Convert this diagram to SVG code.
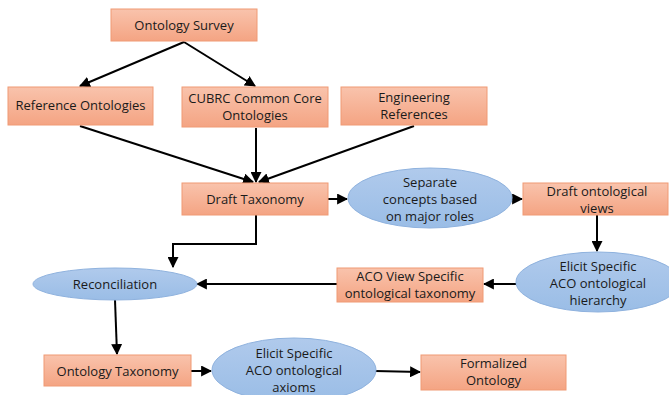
<svg xmlns="http://www.w3.org/2000/svg" width="669" height="395" viewBox="0 0 669 395">
  <defs>
    <linearGradient id="boxFill" x1="0" y1="0" x2="0" y2="1">
      <stop offset="0" stop-color="#F9C3AC"/>
      <stop offset="1" stop-color="#F4A483"/>
    </linearGradient>
    <linearGradient id="ovalFill" x1="0" y1="0" x2="0" y2="1">
      <stop offset="0" stop-color="#B0CAEC"/>
      <stop offset="1" stop-color="#9ABDE6"/>
    </linearGradient>
    <marker id="arrow" viewBox="0 0 10 10" refX="9" refY="5" markerWidth="5.5" markerHeight="5.5" orient="auto" markerUnits="strokeWidth">
      <path d="M0,0 L10,5 L0,10 z" fill="#000"/>
    </marker>
  </defs>
  <style>
    .box { fill: url(#boxFill); stroke: #F09A74; stroke-width: 1; }
    .oval { fill: url(#ovalFill); stroke: #8FB2DE; stroke-width: 1; }
    .lbl { font-family: "Open Sans", "Liberation Sans", sans-serif; font-size: 13px; fill: #1a1a1a; text-anchor: middle; }
    .conn { fill: none; stroke: #000; stroke-width: 2; marker-end: url(#arrow); }
  </style>
  <rect width="669" height="395" fill="#fff"/>

  <g id="connectors">
    <path class="conn" d="M184,42 L80,86"/>
    <path class="conn" d="M184,42 L255,86"/>
    <path class="conn" d="M80,126 L253,182"/>
    <path class="conn" d="M256,128 L256,182"/>
    <path class="conn" d="M414,126 L259,182"/>
    <path class="conn" d="M328,199 L347,199"/>
    <path class="conn" d="M512,199 L522,199"/>
    <path class="conn" d="M597,215 L597,251"/>
    <path class="conn" d="M516,284 L484,284"/>
    <path class="conn" d="M337,284 L197,284"/>
    <path class="conn" d="M256,215 L256,244 L173,244 L173,267"/>
    <path class="conn" d="M115,300 L117,354"/>
    <path class="conn" d="M191,371 L211,371"/>
    <path class="conn" d="M375,371 L420,372"/>
  </g>

  <g id="ontology-survey">
    <rect class="box" x="111" y="9" width="146" height="32"/>
    <text class="lbl" x="184" y="30">Ontology Survey</text>
  </g>
  <g id="reference-ontologies">
    <rect class="box" x="8" y="87" width="145" height="38"/>
    <text class="lbl" x="80.5" y="110">Reference Ontologies</text>
  </g>
  <g id="cubrc-common-core">
    <rect class="box" x="182" y="87" width="146" height="40"/>
    <text class="lbl" x="255" y="103">CUBRC Common Core</text>
    <text class="lbl" x="255" y="120">Ontologies</text>
  </g>
  <g id="engineering-references">
    <rect class="box" x="341" y="87" width="146" height="38"/>
    <text class="lbl" x="414" y="102">Engineering</text>
    <text class="lbl" x="414" y="119">References</text>
  </g>
  <g id="draft-taxonomy">
    <rect class="box" x="182" y="183" width="146" height="32"/>
    <text class="lbl" x="255" y="204">Draft Taxonomy</text>
  </g>
  <g id="separate-concepts">
    <ellipse class="oval" cx="430" cy="198" rx="82" ry="30"/>
    <text class="lbl" x="430" y="187">Separate</text>
    <text class="lbl" x="430" y="204">concepts based</text>
    <text class="lbl" x="430" y="221">on major roles</text>
  </g>
  <g id="draft-ontological-views">
    <rect class="box" x="523" y="183" width="145" height="32"/>
    <text class="lbl" x="597" y="196">Draft ontological</text>
    <text class="lbl" x="597" y="213">views</text>
  </g>
  <g id="elicit-hierarchy">
    <ellipse class="oval" cx="598" cy="282" rx="82" ry="30"/>
    <text class="lbl" x="598" y="271">Elicit Specific</text>
    <text class="lbl" x="598" y="288">ACO ontological</text>
    <text class="lbl" x="598" y="305">hierarchy</text>
  </g>
  <g id="aco-view-taxonomy">
    <rect class="box" x="337" y="268" width="146" height="34"/>
    <text class="lbl" x="410" y="281">ACO View Specific</text>
    <text class="lbl" x="410" y="298">ontological taxonomy</text>
  </g>
  <g id="reconciliation">
    <ellipse class="oval" cx="115" cy="284" rx="82" ry="16"/>
    <text class="lbl" x="115" y="289">Reconciliation</text>
  </g>
  <g id="ontology-taxonomy">
    <rect class="box" x="44" y="355" width="147" height="31"/>
    <text class="lbl" x="117.5" y="376">Ontology Taxonomy</text>
  </g>
  <g id="elicit-axioms">
    <ellipse class="oval" cx="294" cy="370" rx="82" ry="32"/>
    <text class="lbl" x="294" y="358">Elicit Specific</text>
    <text class="lbl" x="294" y="375">ACO ontological</text>
    <text class="lbl" x="294" y="392">axioms</text>
  </g>
  <g id="formalized-ontology">
    <rect class="box" x="421" y="355" width="145" height="35"/>
    <text class="lbl" x="493.5" y="368">Formalized</text>
    <text class="lbl" x="493.5" y="385">Ontology</text>
  </g>
</svg>
